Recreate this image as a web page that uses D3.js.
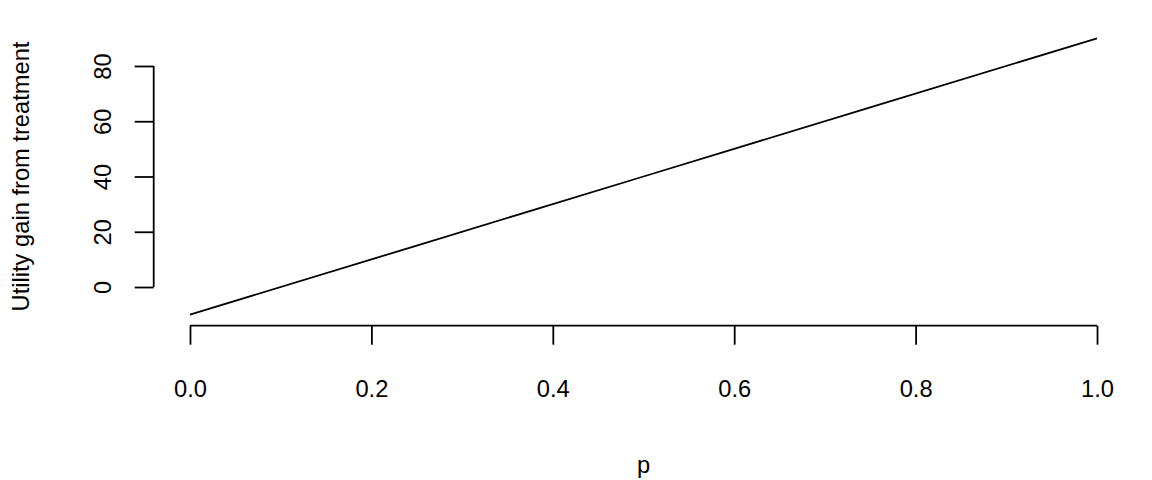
<!DOCTYPE html>
<html><head><meta charset="utf-8">
<script src="https://cdn.jsdelivr.net/npm/d3@7"></script>
<style>
html,body{margin:0;padding:0;background:#fff;}
svg text{font-family:"Liberation Sans",Arial,Helvetica,sans-serif;fill:#000;}
</style></head>
<body>
<script>
// Data
const pValues = [0, 0.25, 0.5, 0.75, 1];
const utilityGain = [-10, 15, 40, 65, 90];
const xTicks = [0, 0.2, 0.4, 0.6, 0.8, 1.0];
const yTicks = [0, 20, 40, 60, 80];
const xTitle = "p";
const yTitle = "Utility gain from treatment";

const W = 1152, H = 480;
const svg = d3.select("body").append("svg").attr("width", W).attr("height", H);

const x = d3.scaleLinear().domain([-0.04, 1.04]).range([153.7, 1133.3]);
const y = d3.scaleLinear().domain([-14, 94]).range([325.7, 27.3]);

const fs = 23.7;
const sw = 1.8;

// line
const line = d3.line().x((d, i) => x(pValues[i])).y(d => y(d));
svg.append("path").datum(utilityGain).attr("d", line)
  .attr("fill", "none").attr("stroke", "#000").attr("stroke-width", sw);

// x axis
const xAxis = svg.append("g").attr("transform", `translate(0,${y(-14)})`)
  .call(d3.axisBottom(x).tickValues(xTicks).tickFormat(d3.format(".1f")).tickSize(19).tickPadding(35).tickSizeOuter(0));
xAxis.select(".domain").remove();
xAxis.append("line").attr("x1", x(xTicks[0])).attr("x2", x(xTicks[xTicks.length-1]))
  .attr("stroke", "#000").attr("stroke-width", sw);
xAxis.selectAll(".tick line").attr("stroke", "#000").attr("stroke-width", sw);
xAxis.selectAll(".tick text").attr("font-size", fs).attr("font-family", null);

// y axis
const yAxis = svg.append("g").attr("transform", `translate(${x(-0.04)},0)`)
  .call(d3.axisLeft(y).tickValues(yTicks).tickFormat(d3.format("d")).tickSize(19).tickSizeOuter(0));
yAxis.select(".domain").remove();
yAxis.append("line").attr("y1", y(yTicks[0])).attr("y2", y(yTicks[yTicks.length-1]))
  .attr("stroke", "#000").attr("stroke-width", sw);
yAxis.selectAll(".tick line").attr("stroke", "#000").attr("stroke-width", sw);
yAxis.selectAll(".tick text")
  .attr("x", null).attr("dy", null)
  .attr("transform", "translate(-43,0) rotate(-90)")
  .attr("text-anchor", "middle")
  .attr("font-size", fs).attr("font-family", null);

// titles
svg.append("text").attr("x", (x(-0.04) + x(1.04)) / 2).attr("y", 473)
  .attr("text-anchor", "middle").attr("font-size", fs).text(xTitle);
svg.append("text").attr("transform", `translate(29,${(y(-14) + y(94)) / 2}) rotate(-90)`)
  .attr("text-anchor", "middle").attr("font-size", fs).text(yTitle);
</script>
</body></html>
